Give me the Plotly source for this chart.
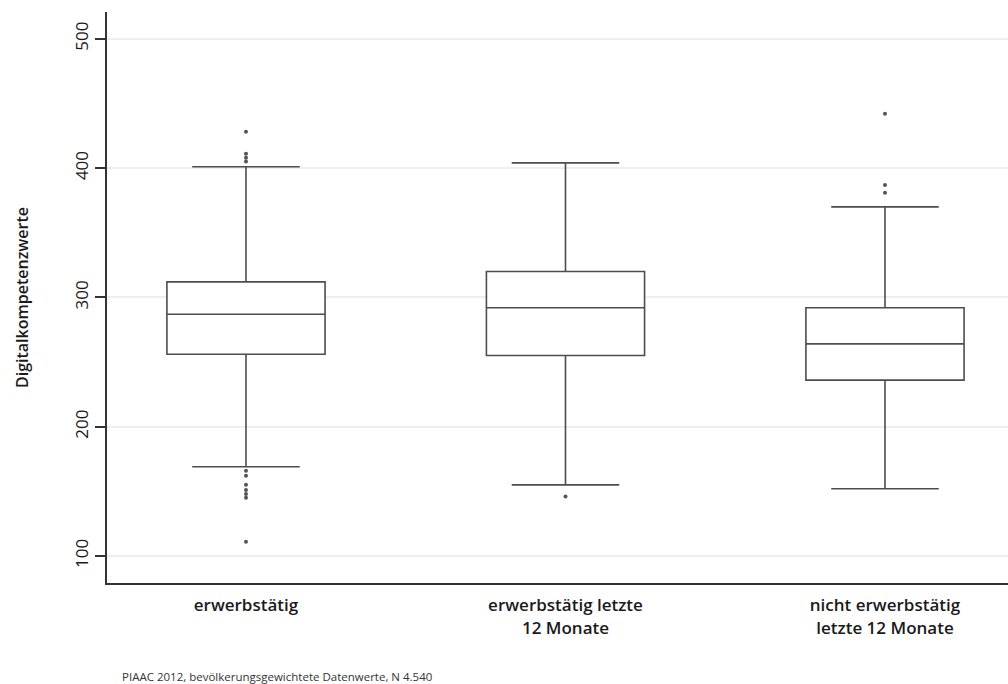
import plotly.graph_objects as go

# Gruppen und Kennwerte der Boxplots
gruppen = ["erwerbstätig", "erwerbstätig letzte<br>12 Monate", "nicht erwerbstätig<br>letzte 12 Monate"]
positionen = [0, 1, 2]
q1 = [256, 255, 236]
median = [287, 292, 264]
q3 = [312, 320, 292]
unterer_whisker = [169, 155, 152]
oberer_whisker = [401, 404, 370]

# Ausreißer je Gruppe
ausreisser_x = [0, 0, 0, 0, 0, 0, 0, 0, 0, 0, 0, 1, 2, 2, 2]
ausreisser_y = [428, 411, 408, 405, 162, 155, 151, 148, 145, 111, 166, 146, 442, 387, 381]

y_ticks = [100, 200, 300, 400, 500]

linie = "#4d4d4d"

fig = go.Figure()
fig.add_trace(go.Box(
    x=positionen,
    q1=q1, median=median, q3=q3,
    lowerfence=unterer_whisker, upperfence=oberer_whisker,
    width=0.495,
    whiskerwidth=0.68,
    fillcolor="white",
    line=dict(color=linie, width=1.6),
    boxpoints=False,
    hoverinfo="skip",
    showlegend=False,
))
fig.add_trace(go.Scatter(
    x=ausreisser_x, y=ausreisser_y,
    mode="markers",
    marker=dict(color="#555555", size=4),
    hoverinfo="skip",
    showlegend=False,
))

fig.update_layout(
    width=1008, height=684,
    margin=dict(l=107, r=0, t=12, b=101),
    paper_bgcolor="white",
    plot_bgcolor="white",
    font=dict(family="Open Sans, Lato, sans-serif", color="#1a1a1a"),
    xaxis=dict(
        range=[-0.435, 2.385],
        tickvals=positionen,
        ticktext=gruppen,
        tickfont=dict(size=17, weight=600),
        ticklabelstandoff=6,
        showgrid=False,
        zeroline=False,
        showline=True, linecolor="#333333", linewidth=2,
        ticks="",
    ),
    yaxis=dict(
        range=[79.1, 520.7],
        tickvals=y_ticks,
        tickangle=-90,
        tickfont=dict(size=17),
        ticks="outside", ticklen=10, tickwidth=1.5, tickcolor="#333333",
        showgrid=True, gridcolor="#eeeeee", gridwidth=2,
        zeroline=False,
        showline=True, linecolor="#333333", linewidth=2,
        title=dict(text="Digitalkompetenzwerte", font=dict(size=16, weight=600), standoff=38),
    ),
    annotations=[dict(
        text="PIAAC 2012, bevölkerungsgewichtete Datenwerte, N 4.540",
        xref="paper", yref="paper", x=0.014, y=-0.163,
        xanchor="left", yanchor="middle",
        showarrow=False, font=dict(size=11.5, color="#333333"),
    )],
)

fig.write_html("out.html")
